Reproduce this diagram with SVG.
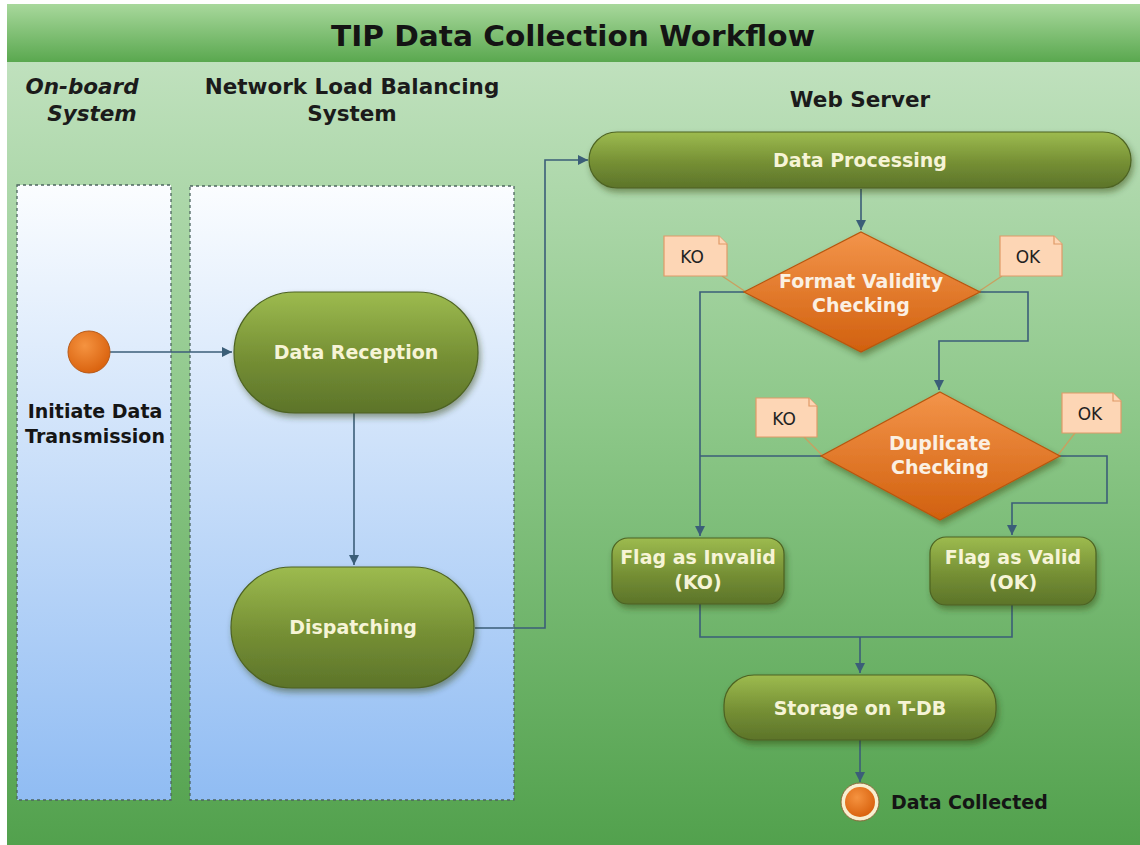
<svg xmlns="http://www.w3.org/2000/svg" width="1140" height="845" viewBox="0 0 1140 845">
<defs>
<linearGradient id="bg" x1="0" y1="0" x2="0" y2="1">
<stop offset="0" stop-color="#c8e5c6"/><stop offset="0.5" stop-color="#8cc788"/><stop offset="1" stop-color="#52a14d"/>
</linearGradient>
<linearGradient id="titleg" x1="0" y1="0" x2="0" y2="1">
<stop offset="0" stop-color="#a8d89c"/><stop offset="1" stop-color="#5aa84f"/>
</linearGradient>
<linearGradient id="lane" x1="0" y1="0" x2="0" y2="1">
<stop offset="0" stop-color="#fbfdff"/><stop offset="1" stop-color="#90bcf3"/>
</linearGradient>
<linearGradient id="olive" x1="0" y1="0" x2="0" y2="1">
<stop offset="0" stop-color="#9dbb4f"/><stop offset="0.55" stop-color="#758f34"/><stop offset="1" stop-color="#5c742a"/>
</linearGradient>
<linearGradient id="orange" x1="0" y1="0" x2="0" y2="1">
<stop offset="0" stop-color="#f3944a"/><stop offset="1" stop-color="#d1600e"/>
</linearGradient>
<radialGradient id="ball" cx="0.4" cy="0.35" r="0.7">
<stop offset="0" stop-color="#f59340"/><stop offset="1" stop-color="#d8600c"/>
</radialGradient>
<filter id="sh" x="-10%" y="-10%" width="130%" height="140%">
<feDropShadow dx="2" dy="4" stdDeviation="3" flood-color="#2b3d10" flood-opacity="0.45"/>
</filter>
<marker id="arr" viewBox="0 0 10 10" refX="10" refY="5" markerWidth="10" markerHeight="10" markerUnits="userSpaceOnUse" orient="auto">
<path d="M0,0 L10,5 L0,10 Z" fill="#3b5e78"/>
</marker>
</defs>
<style>
.hdr{font-family:"DejaVu Sans",Verdana,sans-serif;font-weight:bold;font-size:21.5px;fill:#1b1b1b;text-anchor:middle}
.nl{font-family:"DejaVu Sans",Verdana,sans-serif;font-weight:bold;font-size:19px;fill:#f6f4d6;text-anchor:middle}
.dl{font-family:"DejaVu Sans",Verdana,sans-serif;font-weight:bold;font-size:19px;fill:#fbf0e2;text-anchor:middle}
.blk{font-family:"DejaVu Sans",Verdana,sans-serif;font-weight:bold;font-size:19px;fill:#151515}
.note{fill:#fdd6b5;stroke:#e09a68;stroke-width:1.2}
.nt{font-family:"DejaVu Sans",Verdana,sans-serif;font-size:17px;fill:#222;text-anchor:middle}
.node{fill:url(#olive);stroke:#4d6322;stroke-width:1.2;filter:url(#sh)}
.dia{fill:url(#orange);stroke:#b8560f;stroke-width:1.2;filter:url(#sh)}
.lanebox{fill:url(#lane);stroke:#4e6660;stroke-width:1.3;stroke-dasharray:3 3}
.c{fill:none;stroke:#3b5e78;stroke-width:1.6}
.ln{fill:none;stroke:#c9a060;stroke-width:1.3}
</style>
<rect width="1140" height="845" fill="#ffffff"/>
<rect x="7" y="4" width="1133" height="841" fill="url(#bg)"/>
<rect x="7" y="4" width="1133" height="58" fill="url(#titleg)"/>
<text x="573" y="46" font-family="DejaVu Sans, Verdana, sans-serif" font-weight="bold" font-size="28" fill="#141414" text-anchor="middle" textLength="484" lengthAdjust="spacingAndGlyphs">TIP Data Collection Workflow</text>

<g id="lane-onboard">
<rect class="lanebox" x="17" y="185" width="154" height="615"/>
<text class="hdr" x="82" y="94" font-style="italic">On-board</text>
<text class="hdr" x="92" y="121" font-style="italic">System</text>
</g>
<g id="lane-nlb">
<rect class="lanebox" x="190" y="186" width="324" height="614"/>
<text class="hdr" x="352" y="94">Network Load Balancing</text>
<text class="hdr" x="352" y="121">System</text>
</g>
<g id="lane-web">
<text class="hdr" x="860" y="107">Web Server</text>
</g>

<g id="connectors">
<path class="c" d="M110,352 H232" marker-end="url(#arr)"/>
<path class="c" d="M354,413 V565" marker-end="url(#arr)"/>
<path class="c" d="M475,628 H545 V160 H588" marker-end="url(#arr)"/>
<path class="c" d="M861,189 V230" marker-end="url(#arr)"/>
<path class="c" d="M744,292 H700 V536" marker-end="url(#arr)"/>
<path class="c" d="M980,292 H1028 V341 H939 V390" marker-end="url(#arr)"/>
<path class="c" d="M821,456 H700"/>
<path class="c" d="M1058,456 H1107 V503 H1012 V535" marker-end="url(#arr)"/>
<path class="c" d="M700,604 V637 H1012 V605"/>
<path class="c" d="M860,637 V673" marker-end="url(#arr)"/>
<path class="c" d="M860,740 V782" marker-end="url(#arr)"/>
<path class="ln" d="M722,276 L746,292"/>
<path class="ln" d="M1002,276 L978,292"/>
<path class="ln" d="M804,437 L822,455"/>
<path class="ln" d="M1075,433 L1058,455"/>
</g>

<g id="start">
<circle cx="89" cy="352" r="21" fill="url(#ball)" stroke="#b85a18" stroke-width="1"/>
<text class="blk" x="95" y="418" text-anchor="middle">Initiate Data</text>
<text class="blk" x="95" y="443" text-anchor="middle">Transmission</text>
</g>

<g id="data-reception">
<rect class="node" x="234" y="292" width="244" height="121" rx="60.5"/>
<text class="nl" x="356" y="359">Data Reception</text>
</g>

<g id="dispatching">
<rect class="node" x="231" y="567" width="243" height="121" rx="60.5"/>
<text class="nl" x="353" y="634">Dispatching</text>
</g>

<g id="data-processing">
<rect class="node" x="589" y="132" width="542" height="56" rx="28"/>
<text class="nl" x="860" y="167">Data Processing</text>
</g>

<g id="format-check">
<polygon class="dia" points="861,232 980,292 861,352 744,292"/>
<text class="dl" x="861" y="288">Format Validity</text>
<text class="dl" x="861" y="312">Checking</text>
</g>

<g id="duplicate-check">
<polygon class="dia" points="940,392 1060,456 940,520 821,456"/>
<text class="dl" x="940" y="450">Duplicate</text>
<text class="dl" x="940" y="474">Checking</text>
</g>

<g id="note-ko1">
<path class="note" d="M664,236 H719 L727,244 V276 H664 Z"/>
<path class="note" d="M719,236 V244 H727"/>
<text class="nt" x="692" y="263">KO</text>
</g>
<g id="note-ok1">
<path class="note" d="M1000,236 H1054 L1062,244 V276 H1000 Z"/>
<path class="note" d="M1054,236 V244 H1062"/>
<text class="nt" x="1028" y="263">OK</text>
</g>
<g id="note-ko2">
<path class="note" d="M756,398 H809 L817,406 V437 H756 Z"/>
<path class="note" d="M809,398 V406 H817"/>
<text class="nt" x="784" y="425">KO</text>
</g>
<g id="note-ok2">
<path class="note" d="M1062,393 H1113 L1121,401 V433 H1062 Z"/>
<path class="note" d="M1113,393 V401 H1121"/>
<text class="nt" x="1090" y="420">OK</text>
</g>

<g id="flag-invalid">
<rect class="node" x="612" y="538" width="172" height="66" rx="16"/>
<text class="nl" x="698" y="564">Flag as Invalid</text>
<text class="nl" x="698" y="589">(KO)</text>
</g>

<g id="flag-valid">
<rect class="node" x="930" y="537" width="166" height="68" rx="16"/>
<text class="nl" x="1013" y="564">Flag as Valid</text>
<text class="nl" x="1013" y="589">(OK)</text>
</g>

<g id="storage">
<rect class="node" x="724" y="675" width="272" height="65" rx="30"/>
<text class="nl" x="860" y="715">Storage on T-DB</text>
</g>

<g id="end">
<circle cx="860" cy="802" r="19" fill="#f7efd0" stroke="#8a6a3a" stroke-width="1"/>
<circle cx="860" cy="802" r="15" fill="url(#ball)"/>
<text class="blk" x="891" y="809">Data Collected</text>
</g>
</svg>
